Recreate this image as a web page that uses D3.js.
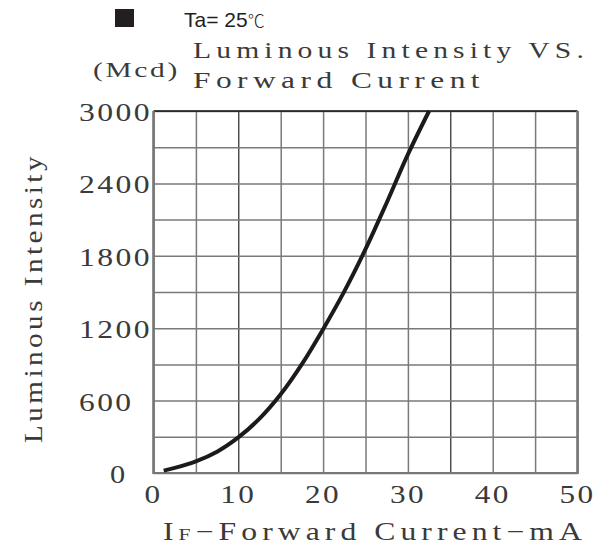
<!DOCTYPE html>
<html>
<head>
<meta charset="utf-8">
<script src="https://cdn.jsdelivr.net/npm/d3@7/dist/d3.min.js"></script>
<style>
  html, body { margin: 0; padding: 0; background: #fff; }
  svg { display: block; }
  .serif { font-family: "Liberation Serif", "DejaVu Serif", serif; fill: #3a3a3a; }
</style>
</head>
<body>
<svg id="chart" width="606" height="550"></svg>
<script>
// ---- data ----
const currentMA = [1.2, 2.5, 5, 7.5, 10, 12.5, 15, 17.5, 20, 22.5, 25, 27.5, 30, 32.5];
const intensityMcd = [20, 42, 97, 177, 295, 450, 652, 902, 1192, 1505, 1855, 2240, 2640, 3000];
const xTickLabels = [0, 10, 20, 30, 40, 50];
const yTickLabels = [0, 600, 1200, 1800, 2400, 3000];
const xGrid = [0, 5, 10, 15, 20, 25, 30, 35, 40, 45, 50];
const yGrid = [0, 300, 600, 900, 1200, 1500, 1800, 2100, 2400, 2700, 3000];
const darkXGrid = [10, 35];

(function () {
const svg = d3.select("#chart");
const pLeft = 153.5, pRight = 577.5, pTop = 111, pBottom = 473;
const x = d3.scaleLinear().domain([0, 50]).range([pLeft, pRight]);
const y = d3.scaleLinear().domain([0, 3000]).range([pBottom, pTop]);

// grid (vertical)
const gx = svg.append("g").attr("transform", `translate(0,${pBottom})`)
  .call(d3.axisBottom(x).tickValues(xGrid).tickSize(-(pBottom - pTop)).tickFormat(""));
gx.select(".domain").remove();
gx.selectAll(".tick line")
  .attr("stroke", d => darkXGrid.includes(d) ? "#111" : "#7a7a7a")
  .attr("stroke-width", d => darkXGrid.includes(d) ? 1.1 : 1.5);

// grid (horizontal)
const gy = svg.append("g").attr("transform", `translate(${pLeft},0)`)
  .call(d3.axisLeft(y).tickValues(yGrid).tickSize(-(pRight - pLeft)).tickFormat(""));
gy.select(".domain").remove();
gy.selectAll(".tick line").attr("stroke", "#7a7a7a").attr("stroke-width", 1.5);

// frame
svg.append("line").attr("x1", x(0)).attr("x2", x(50)).attr("y1", y(3000)).attr("y2", y(3000))
  .attr("stroke", "#111").attr("stroke-width", 1.6);
svg.append("line").attr("x1", x(0)).attr("x2", x(0)).attr("y1", y(3000)).attr("y2", y(0) + 1)
  .attr("stroke", "#777").attr("stroke-width", 2.6);
svg.append("line").attr("x1", x(50)).attr("x2", x(50)).attr("y1", y(3000)).attr("y2", y(0) + 1)
  .attr("stroke", "#777").attr("stroke-width", 2.6);
svg.append("line").attr("x1", x(0)).attr("x2", x(50)).attr("y1", y(0)).attr("y2", y(0))
  .attr("stroke", "#777").attr("stroke-width", 2.2);

// curve
const line = d3.line().x((d, i) => x(currentMA[i])).y(d => y(d)).curve(d3.curveCatmullRom.alpha(0.5));
svg.append("path").datum(intensityMcd).attr("d", line)
  .attr("fill", "none").attr("stroke", "#1e1a1a").attr("stroke-width", 4).attr("stroke-linecap", "butt");

// y tick labels
svg.append("g").selectAll("text").data(yTickLabels).join("text")
  .attr("class", "serif")
  .attr("x", d => d === 0 ? 110 : 79)
  .attr("y", d => y(d) + 10)
  .attr("font-size", 26)
  .attr("letter-spacing", 2)
  .attr("fill", "#555")
  .attr("textLength", d => String(d).length * 18.5 - 1)
  .attr("lengthAdjust", "spacingAndGlyphs")
  .text(d => d);

// x tick labels
svg.append("g").selectAll("text").data(xTickLabels).join("text")
  .attr("class", "serif")
  .attr("x", d => x(d) - (String(d).length * 18) / 2)
  .attr("y", 503)
  .attr("font-size", 26)
  .attr("letter-spacing", 2)
  .attr("fill", "#555")
  .attr("textLength", d => String(d).length * 18)
  .attr("lengthAdjust", "spacingAndGlyphs")
  .text(d => d);

// x axis title
const xt = svg.append("text").attr("class", "serif").attr("x", 163).attr("y", 540)
  .attr("font-size", 25).attr("letter-spacing", 4).attr("textLength", 424).attr("lengthAdjust", "spacingAndGlyphs");
xt.append("tspan").text("I");
xt.append("tspan").attr("font-size", 17).text("F");
xt.append("tspan").text("\u2212Forward Current\u2212mA");

// y axis title
svg.append("text").attr("class", "serif")
  .attr("transform", "translate(42,443) rotate(-90)")
  .attr("font-size", 25).attr("letter-spacing", 3).attr("textLength", 290).attr("lengthAdjust", "spacingAndGlyphs")
  .text("Luminous Intensity");

// headers
svg.append("rect").attr("x", 115).attr("y", 9).attr("width", 19).attr("height", 18).attr("fill", "#231f20");
const ta = svg.append("text").attr("x", 184).attr("y", 27)
  .attr("font-family", "Liberation Sans, Arial, sans-serif").attr("font-size", 21).attr("fill", "#231f20");
ta.append("tspan").text("Ta= 25");
ta.append("tspan").attr("font-family", "Noto Sans CJK SC").attr("font-size", 17).attr("font-weight", 300).text("\u2103");
svg.append("text").attr("class", "serif").attr("x", 93).attr("y", 77)
  .attr("font-size", 22).attr("letter-spacing", 2).attr("textLength", 87).attr("lengthAdjust", "spacingAndGlyphs").text("(Mcd)");
svg.append("text").attr("class", "serif").attr("x", 193).attr("y", 58)
  .attr("font-size", 23).attr("letter-spacing", 4).attr("textLength", 396).attr("lengthAdjust", "spacingAndGlyphs").text("Luminous Intensity VS.");
svg.append("text").attr("class", "serif").attr("x", 193).attr("y", 88)
  .attr("font-size", 23).attr("letter-spacing", 4).attr("textLength", 292).attr("lengthAdjust", "spacingAndGlyphs").text("Forward Current");
})();
</script>
</body>
</html>
